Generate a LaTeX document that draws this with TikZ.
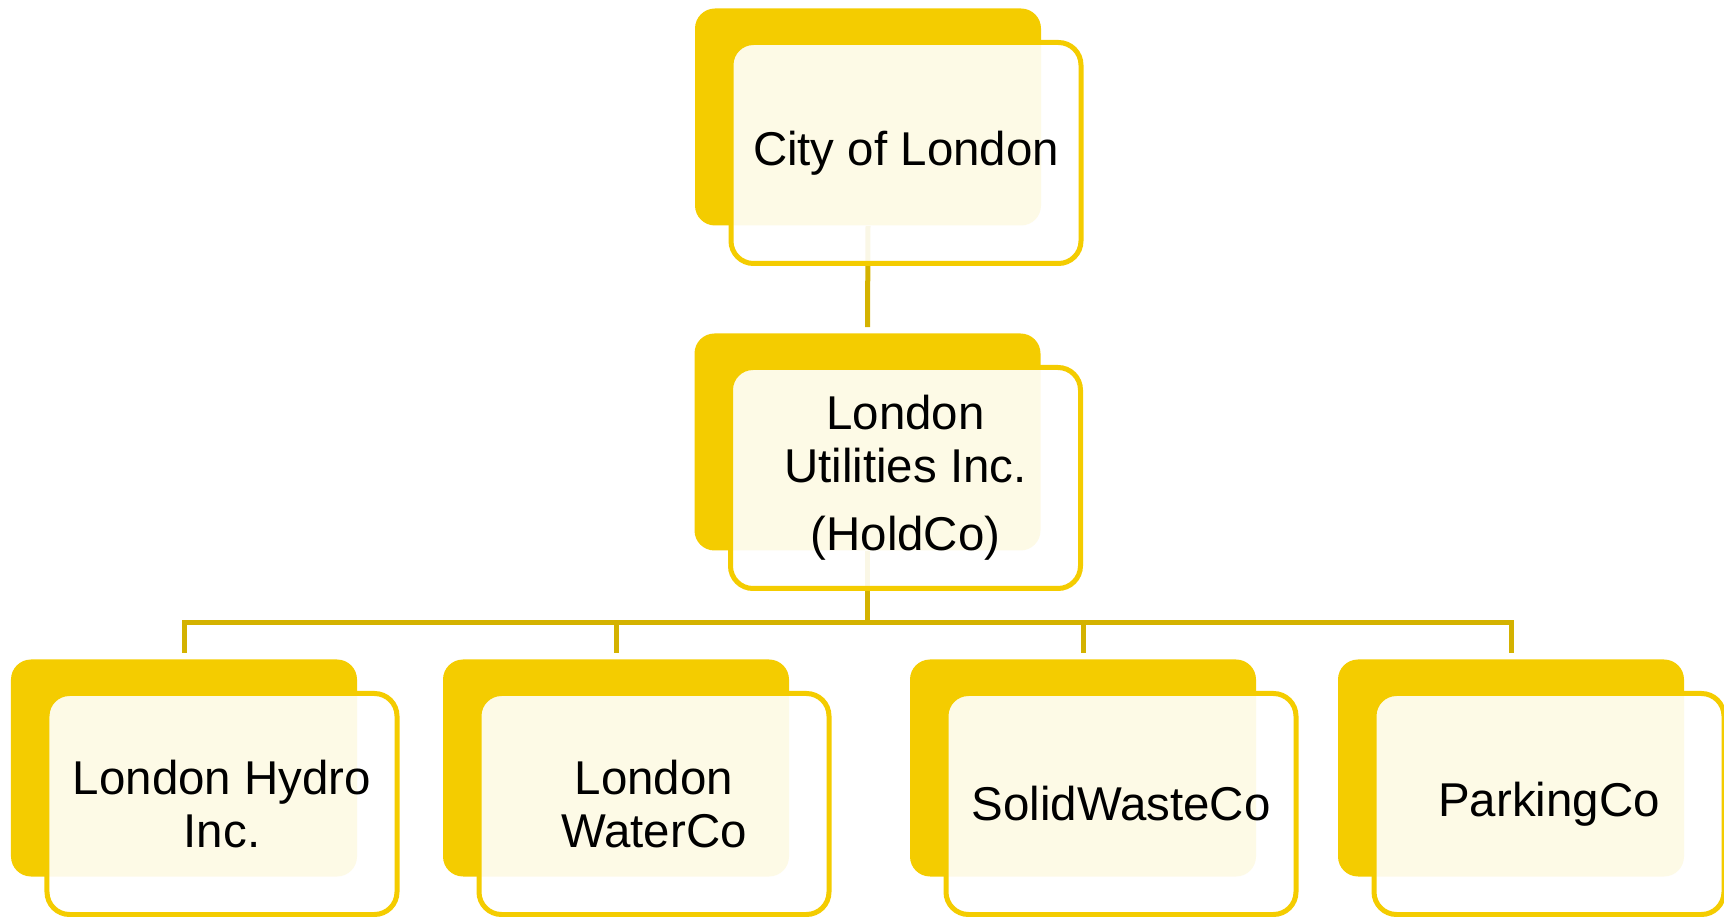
\documentclass[tikz,border=0pt]{standalone}
\usepackage{fontspec}
\setmainfont{Liberation Sans}
\usetikzlibrary{positioning}
\definecolor{gold}{RGB}{244,204,0}
\definecolor{linkgold}{RGB}{212,178,0}
\tikzset{backbox/.style={fill=gold,rounded corners=0.4cm,minimum width=6.92cm,minimum height=4.34cm}}
\tikzset{frontbox/.style={draw=gold,line width=0.1cm,fill=white,fill opacity=0.9,text opacity=1,rounded corners=0.45cm,minimum width=7.0cm,minimum height=4.42cm,align=center,on grid,below right=0.72cm and 0.76cm of #1}}
\tikzset{link/.style={draw=linkgold,line width=0.1cm,shorten >=0.12cm}}
\tikzset{font={\fontsize{27pt}{30pt}\selectfont}}

\begin{document}
\begin{tikzpicture}
        \useasboundingbox (0,0) rectangle (34.48,-18.34);
        \node[backbox] (cityb) at (17.36,-2.34) {};
        \node[backbox] (holdb) at (17.35,-8.84) {};
        \coordinate (bus) at (17.35,-12.46);
        \foreach \i\x in {1/3.68, 2/12.32, 3/21.66, 4/30.22}{
            \node[backbox] (b\i) at (\x,-15.36) {};
            \path[link] (holdb.south |- bus) -| (b\i.north);
        }
        \path[link] (cityb.south) -- (holdb.north);
        \path[link,shorten >=0pt] (holdb.south) -- (holdb.south |- bus);
        % front boxes over the links
        \node[frontbox=cityb] (city) {City of London};
        \node[frontbox=holdb] (hold) {London\\Utilities Inc.\\[0.32cm](HoldCo)};
        \foreach \i\t in {1/London Hydro\\Inc., 2/London\\WaterCo, 3/SolidWasteCo, 4/ParkingCo}{
            \node[frontbox=b\i] (f\i) {\t};
        }
    \end{tikzpicture}
\end{document}
